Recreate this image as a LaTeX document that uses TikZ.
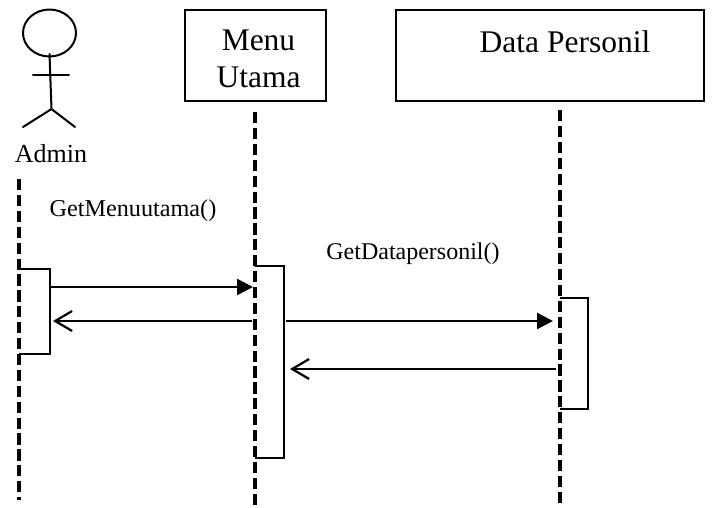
\documentclass[tikz,border=0pt]{standalone}
\usepackage{fontspec}
\setmainfont{Liberation Serif}
\usetikzlibrary{arrows.meta,shapes.geometric}
\newcommand{\fsz}[1]{\fontsize{#1}{#1}\selectfont}
\tikzset{
  life/.style={line width=3.8pt,dash pattern=on 11.2pt off 4.7pt},
  actbar/.style={line width=1.9pt},
  actor/.style={line width=2pt,line cap=round},
  box/.style={draw,line width=2pt,inner sep=0pt,align=center},
  callarrow/.style={line width=2.5pt,-{Triangle[length=16pt,width=16pt]},shorten >=0pt},
  retarrow/.style={line width=2.5pt,-{Straight Barb[length=17pt,width=20pt,line width=2.2pt]}},
  lab/.style={inner sep=0pt,anchor=base}
}
\begin{document}
\begin{tikzpicture}[x=1pt,y=-1pt]
\useasboundingbox (0,0) rectangle (725,507);
% actor
\node[draw,ellipse,actor,minimum width=53pt,minimum height=47pt,inner sep=0pt] (head) at (49.5,33) {};
\coordinate (neck) at (49.5,54);
\coordinate (hip) at (51.5,109);
\coordinate (armL) at (33,75);
\coordinate (armR) at (69,75);
\coordinate (legL) at (23,127);
\coordinate (legR) at (75,127);
\draw[actor] (neck) -- (hip);
\draw[actor] (armL) -- (armR);
\draw[actor] (legL) -- (hip) -- (legR);
\node[lab,font=\fsz{26}] (admin) at (51,162) {Admin};
% boxes
\node[box,minimum width=141pt,minimum height=91pt] (menu) at (255,55.5) {};
\node[lab,font=\fsz{31.5}] (menu1) at (258.5,50) {Menu};
\node[lab,font=\fsz{31.5}] (menu2) at (258.5,87) {Utama};
\node[box,minimum width=308pt,minimum height=91pt] (data) at (550,55.5) {};
\node[lab,font=\fsz{31.5}] (datat) at (565,52) {Data Personil};
% lifelines
\coordinate (a0) at (19,179); \coordinate (a1) at (19,500);
\coordinate (m0) at (255,112); \coordinate (m1) at (255,507);
\coordinate (d0) at (560,110); \coordinate (d1) at (560,507);
\draw[life] (a0) -- (a1);
\draw[life] (m0) -- (m1);
\draw[life] (d0) -- (d1);
% activations
\coordinate (aa) at (19,269); \coordinate (ab) at (50,269); \coordinate (ac) at (50,354); \coordinate (ad) at (19,354);
\coordinate (ma) at (255,266); \coordinate (mb) at (284,266); \coordinate (mc) at (284,458); \coordinate (md) at (255,458);
\coordinate (da) at (560,298); \coordinate (db) at (588,298); \coordinate (dc) at (588,409); \coordinate (dd) at (560,409);
\draw[actbar] (aa) -- (ab) -- (ac) -- (ad);
\draw[actbar] (ma) -- (mb) -- (mc) -- (md);
\draw[actbar] (da) -- (db) -- (dc) -- (dd);
% messages
\coordinate (c1s) at (50,287); \coordinate (c1e) at (253,287);
\coordinate (r1s) at (252,321); \coordinate (r1e) at (53,321);
\coordinate (c2s) at (286,321); \coordinate (c2e) at (553,321);
\coordinate (r2s) at (556,369); \coordinate (r2e) at (290,369);
\draw[callarrow] (c1s) -- (c1e);
\draw[retarrow] (r1s) -- (r1e);
\draw[callarrow] (c2s) -- (c2e);
\draw[retarrow] (r2s) -- (r2e);
% labels
\node[lab,font=\fsz{24.2}] (l1) at (133,216) {GetMenuutama()};
\node[lab,font=\fsz{24}] (l2) at (413,259) {GetDatapersonil()};
\end{tikzpicture}
\end{document}
